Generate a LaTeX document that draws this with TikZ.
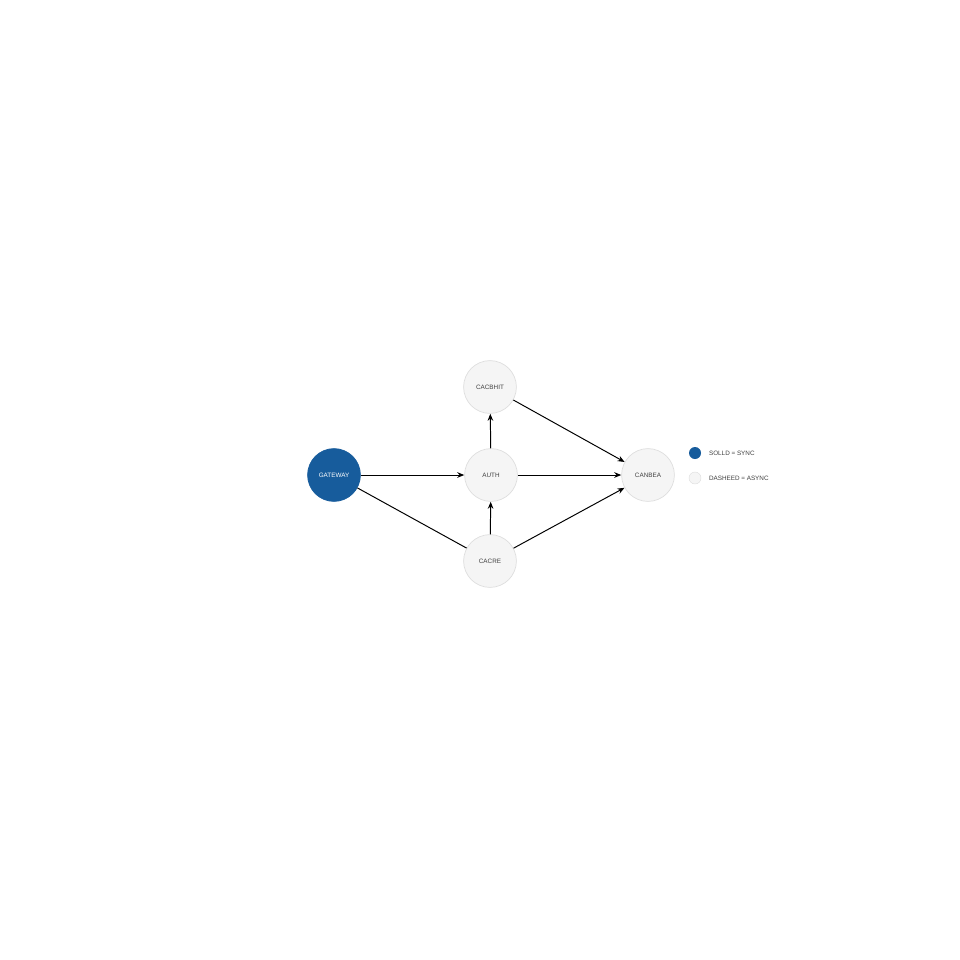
\documentclass[tikz,border=0pt]{standalone}
\usepackage{fontspec}
\setmainfont{Liberation Sans}
\usetikzlibrary{arrows.meta}
\definecolor{azul}{HTML}{175C9C}
\definecolor{gris}{HTML}{F5F5F5}
\definecolor{borde}{HTML}{DEDEDE}
\tikzset{
  servicio/.style={circle, draw=borde, fill=gris, line width=0.5pt, minimum size=1.32cm, inner sep=0pt, font=\fontsize{4.5}{5}\selectfont, text=black!75},
  principal/.style={servicio, draw=azul, fill=azul, text=white},
  flecha/.style={-{Stealth[length=5pt,width=4pt]}, line width=0.7pt},
  linea/.style={line width=0.7pt}
}
\begin{document}
\begin{tikzpicture}[x=0.025cm, y=-0.025cm]
	% Lienzo
		\useasboundingbox (0,0) rectangle (960,960);
	% Servicios
		\node[principal] (gateway) at (334,475) {GATEWAY};
		\node[servicio] (auth) at (491,475) {AUTH};
		\node[servicio] (arriba) at (490,387) {CACBHIT};
		\node[servicio] (cache) at (490,561) {CACRE};
		\node[servicio] (destino) at (648,475) {CANBEA};

	% Conexiones
		\draw[flecha] (gateway) -- (auth);
		\draw[linea] (gateway) -- (cache);
		\draw[flecha] (auth) -- (arriba);
		\draw[flecha] (cache) -- (auth);
		\draw[flecha] (arriba) -- (destino);
		\draw[flecha] (auth) -- (destino);
		\draw[flecha] (cache) -- (destino);

	% Leyenda
		\node[circle, fill=azul, minimum size=0.3cm, inner sep=0pt] (sync) at (695,453) {};
		\node[circle, fill=gris, draw=borde, line width=0.3pt, minimum size=0.3cm, inner sep=0pt] (async) at (695,478) {};
		\node[right=2pt, font=\fontsize{4.5}{5}\selectfont, text=black!75] (tsync) at (sync.east) {SOLLD = SYNC};
		\node[right=2pt, font=\fontsize{4.5}{5}\selectfont, text=black!75] (tasync) at (async.east) {DASHEED = ASYNC};
\end{tikzpicture}
\end{document}
